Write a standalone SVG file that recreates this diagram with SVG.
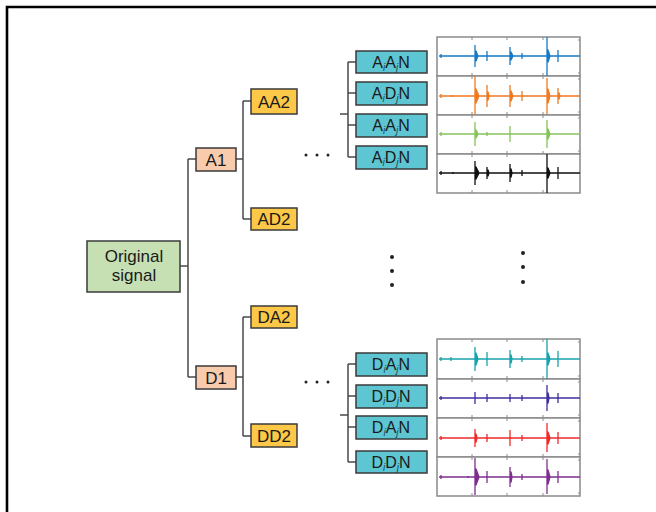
<svg xmlns="http://www.w3.org/2000/svg" width="656" height="512" viewBox="0 0 656 512">
<style>
text{font-family:"Liberation Sans",Arial,sans-serif;font-size:17px;fill:#1a1a1a;text-anchor:middle}
.lt{font-size:16px}
.sub{font-size:10px;font-style:italic;fill:#14505e}
.box{stroke:#3a3a3a;stroke-width:1.5}
.orig{fill:#c6e0b4}
.lvl1{fill:#f8cbad}
.lvl2{fill:#fdc748}
.leaf{fill:#5ec6d2}
.conn path{fill:none;stroke:#4a4a4a;stroke-width:1.5}
.frame{fill:#fff;stroke:#8a8a8a;stroke-width:1.5}
.tick{stroke:#8a8a8a;stroke-width:1}
.sig path{stroke-width:1.3;stroke-linejoin:round}
.dot{fill:#222}
</style>
<rect width="656" height="512" fill="#fff"/>
<path d="M7 512V7H656" fill="none" stroke="#000" stroke-width="2.6"/>

<g class="conn" id="connectors">
<path d="M180 266H188M188 159V377M188 159H196M188 377H196"/>
<path d="M236 159H243M243 101V219M243 101H251M243 219H251"/>
<path d="M236 377H243M243 317V436M243 317H251M243 436H251"/>
<path d="M340 114H348M348 62V157M348 62H356M348 93H356M348 125H356M348 157H356"/>
<path d="M340 415H348M348 364V462M348 364H356M348 396H356M348 427H356M348 462H356"/>
</g>

<g id="original"><rect class="box orig" x="87" y="241" width="93" height="51"/><text x="134" y="262">Original</text><text x="134" y="281">signal</text></g>
<g id="A1"><rect class="box lvl1" x="196" y="148" width="40" height="23"/><text x="216" y="166">A1</text></g>
<g id="D1"><rect class="box lvl1" x="196" y="366" width="40" height="23"/><text x="216" y="384">D1</text></g>
<g id="AA2"><rect class="box lvl2" x="251" y="89" width="46" height="25"/><text x="274" y="108">AA2</text></g>
<g id="AD2"><rect class="box lvl2" x="251" y="208" width="46" height="22"/><text x="274" y="225">AD2</text></g>
<g id="DA2"><rect class="box lvl2" x="251" y="306" width="46" height="22"/><text x="274" y="323">DA2</text></g>
<g id="DD2"><rect class="box lvl2" x="251" y="424" width="46" height="23"/><text x="274" y="442">DD2</text></g>

<g id="AiAjN-1"><rect class="box leaf" x="356" y="51" width="71" height="22"/><text class="lt" x="391" y="68">A<tspan class="sub" dy="3">i</tspan><tspan dy="-3">A</tspan><tspan class="sub" dy="3">j</tspan><tspan dy="-3">N</tspan></text></g>
<g id="AiDjN-1"><rect class="box leaf" x="356" y="82" width="71" height="23"/><text class="lt" x="391" y="99">A<tspan class="sub" dy="3">i</tspan><tspan dy="-3">D</tspan><tspan class="sub" dy="3">j</tspan><tspan dy="-3">N</tspan></text></g>
<g id="AiAjN-2"><rect class="box leaf" x="356" y="114" width="71" height="23"/><text class="lt" x="391" y="131">A<tspan class="sub" dy="3">i</tspan><tspan dy="-3">A</tspan><tspan class="sub" dy="3">j</tspan><tspan dy="-3">N</tspan></text></g>
<g id="AiDjN-2"><rect class="box leaf" x="356" y="146" width="71" height="23"/><text class="lt" x="391" y="163">A<tspan class="sub" dy="3">i</tspan><tspan dy="-3">D</tspan><tspan class="sub" dy="3">j</tspan><tspan dy="-3">N</tspan></text></g>

<g id="DiAjN-1"><rect class="box leaf" x="356" y="353" width="71" height="23"/><text class="lt" x="391" y="370">D<tspan class="sub" dy="3">i</tspan><tspan dy="-3">A</tspan><tspan class="sub" dy="3">j</tspan><tspan dy="-3">N</tspan></text></g>
<g id="DiDjN-1"><rect class="box leaf" x="356" y="385" width="71" height="23"/><text class="lt" x="391" y="402">D<tspan class="sub" dy="3">i</tspan><tspan dy="-3">D</tspan><tspan class="sub" dy="3">j</tspan><tspan dy="-3">N</tspan></text></g>
<g id="DiAjN-2"><rect class="box leaf" x="356" y="416" width="71" height="23"/><text class="lt" x="391" y="433">D<tspan class="sub" dy="3">i</tspan><tspan dy="-3">A</tspan><tspan class="sub" dy="3">j</tspan><tspan dy="-3">N</tspan></text></g>
<g id="DiDjN-2"><rect class="box leaf" x="356" y="451" width="71" height="22"/><text class="lt" x="391" y="468">D<tspan class="sub" dy="3">i</tspan><tspan dy="-3">D</tspan><tspan class="sub" dy="3">j</tspan><tspan dy="-3">N</tspan></text></g>

<g id="dots">
<circle class="dot" cx="306" cy="155" r="1.5"/><circle class="dot" cx="317" cy="155" r="1.5"/><circle class="dot" cx="328" cy="155" r="1.5"/>
<circle class="dot" cx="306" cy="382" r="1.5"/><circle class="dot" cx="317" cy="382" r="1.5"/><circle class="dot" cx="328" cy="382" r="1.5"/>
<circle class="dot" cx="392" cy="257" r="2"/><circle class="dot" cx="392" cy="271" r="2"/><circle class="dot" cx="392" cy="285" r="2"/>
<circle class="dot" cx="523" cy="253" r="2"/><circle class="dot" cx="523" cy="267" r="2"/><circle class="dot" cx="523" cy="282" r="2"/>
</g>

<g id="plots-top">
<rect class="frame" x="437" y="37" width="143" height="39"/>
<rect class="frame" x="437" y="76" width="143" height="39"/>
<rect class="frame" x="437" y="115" width="143" height="39"/>
<rect class="frame" x="437" y="154" width="143" height="39"/>
<path class="tick" d="M472 37v3M507 37v3M543 37v3M472 76v-3M507 76v-3M543 76v-3M472 76v3M507 76v3M543 76v3M472 115v-3M507 115v-3M543 115v-3M472 115v3M507 115v3M543 115v3M472 154v-3M507 154v-3M543 154v-3M472 154v3M507 154v3M472 193v-3M507 193v-3M543 193v-3M580 40h-2M580 73h-2M580 79h-2M580 112h-2M580 118h-2M580 151h-2"/>
<g class="sig" stroke="#1779c6" fill="#1779c6"><path d="M439 56H580M441 54V58M475 45V67M476 51L478 56L476 61ZM487 51V61M510 47V65M511 52L513 56L511 60ZM522 53V59M547 37V76M548 50L550 56L548 62ZM558 50V62"/></g>
<g class="sig" stroke="#ef7a22" fill="#ef7a22"><path d="M439 96H580M441 94V98M452 95V97M475 76V115M476 89L479 96L476 103ZM487 85V107M488 92L489 96L488 100ZM510 85V107M511 91L513 96L511 101ZM522 91V101M547 78V114M548 89L550 96L548 103ZM558 88V104M559 93L560 96L559 99Z"/></g>
<g class="sig" stroke="#86c35a" fill="#86c35a"><path d="M439 134H580M441 132V136M475 122V146M476 130L478 134L476 138ZM487 132V136M510 126V142M547 120V148M548 129L550 134L548 139Z"/></g>
<g class="sig" stroke="#111" fill="#111"><path d="M439 173H580M441 171V175M453 172V174M475 161V185M476 167L479 173L476 179ZM487 167V179M488 170L489 173L488 176ZM510 164V182M511 169L512 173L511 177ZM522 170V176M547 154V193M548 168L550 173L548 178ZM558 167V179"/></g>
</g>

<g id="plots-bottom">
<rect class="frame" x="437" y="339" width="143" height="40"/>
<rect class="frame" x="437" y="379" width="143" height="39"/>
<rect class="frame" x="437" y="418" width="143" height="39"/>
<rect class="frame" x="437" y="457" width="143" height="39"/>
<path class="tick" d="M472 339v3M507 339v3M543 339v3M472 379v-3M507 379v-3M543 379v-3M472 379v3M507 379v3M543 379v3M472 418v-3M507 418v-3M543 418v-3M472 418v3M507 418v3M543 418v3M472 457v-3M507 457v-3M543 457v-3M472 457v3M507 457v3M543 457v3M472 496v-3M507 496v-3M543 496v-3M580 342h-2M580 376h-2M580 382h-2M580 415h-2M580 421h-2M580 454h-2M580 460h-2M580 493h-2"/>
<g class="sig" stroke="#1aa3ad" fill="#1aa3ad"><path d="M439 359H580M441 357V361M451 357V361M475 347V371M476 353L478 359L476 365ZM487 352V366M510 350V368M511 355L512 359L511 363ZM522 356V362M547 339V379M548 353L550 359L548 365ZM558 351V367"/></g>
<g class="sig" stroke="#3f2fa0" fill="#3f2fa0"><path d="M439 398H580M441 396V400M475 392V404M487 394V402M510 394V402M522 395V401M547 385V411M548 393L549 398L548 403ZM558 393V403"/></g>
<g class="sig" stroke="#f02a2a" fill="#f02a2a"><path d="M439 438H580M441 436V440M475 429V447M476 434L477 438L476 442ZM487 434V442M510 430V446M522 435V441M547 423V452M548 432L550 438L548 444ZM558 432V444"/></g>
<g class="sig" stroke="#7e2f8e" fill="#7e2f8e"><path d="M439 477H580M441 475V479M468 476V478M475 458V495M476 469L479 477L476 485ZM487 471V483M510 467V487M511 472L512 477L511 482ZM522 474V480M547 459V494M548 470L550 477L548 484ZM558 471V483"/></g>
</g>
</svg>
